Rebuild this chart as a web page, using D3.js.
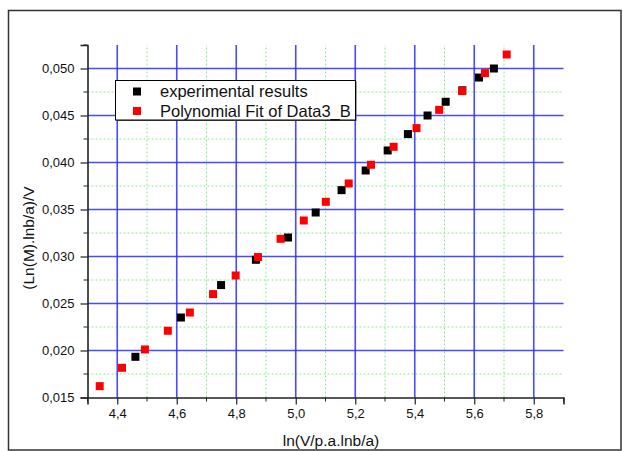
<!DOCTYPE html>
<html>
<head>
<meta charset="utf-8">
<script src="https://cdn.jsdelivr.net/npm/d3@7"></script>
<style>
  body { margin: 0; background: #fff; }
  svg { display: block; font-family: "Liberation Sans", Arial, sans-serif; }
</style>
</head>
<body>
<div id="chart"></div>
<script>
// experimental points (black)
const expX = [4.461, 4.614, 4.749, 4.866, 4.974, 5.067, 5.154, 5.235, 5.309, 5.377, 5.443, 5.504, 5.560, 5.616, 5.666];
const expY = [0.01933, 0.02351, 0.02696, 0.02965, 0.03202, 0.03468, 0.03706, 0.03915, 0.04128, 0.04302, 0.0450, 0.04646, 0.04768, 0.04904, 0.0500];
// polynomial fit points (red)
const fitX = [4.341, 4.416, 4.493, 4.570, 4.644, 4.722, 4.798, 4.873, 4.949, 5.027, 5.101, 5.178, 5.253, 5.329, 5.406, 5.482, 5.559, 5.636, 5.709];
const fitY = [0.01621, 0.01816, 0.02011, 0.0221, 0.02404, 0.0260, 0.02798, 0.02994, 0.03188, 0.03383, 0.03582, 0.03777, 0.03976, 0.04167, 0.04366, 0.0456, 0.0476, 0.04951, 0.05149];

const xMajor = [4.4, 4.6, 4.8, 5.0, 5.2, 5.4, 5.6, 5.8];
const xMinor = [4.3, 4.5, 4.7, 4.9, 5.1, 5.3, 5.5, 5.7, 5.9];
const yMajor = [0.015, 0.020, 0.025, 0.030, 0.035, 0.040, 0.045, 0.050];
const yMinor = [0.0175, 0.0225, 0.0275, 0.0325, 0.0375, 0.0425, 0.0475, 0.0525];

const legendLabels = ['experimental results', 'Polynomial Fit of Data3_B'];
const xTitle = 'ln(V/p.a.lnb/a)';
const yTitle = '(Ln(M).lnb/a)/V';

const W = 623, H = 451;
const svg = d3.select('#chart').append('svg').attr('width', W).attr('height', H);

// outer frame
svg.append('rect').attr('x', 8.5).attr('y', 10.5).attr('width', 612.5).attr('height', 439.5)
  .attr('fill', 'none').attr('stroke', '#333').attr('stroke-width', 1.5);

const x = d3.scaleLinear().domain([4.3, 5.9]).range([87.5, 563.5]);
const y = d3.scaleLinear().domain([0.015, 0.0525]).range([397.5, 45]);

const fmt = d => d3.format(',.3f')(d).replace('.', ',');
const fmtX = d => d3.format('.1f')(d).replace('.', ',');

// minor grid (green dotted)
const g = svg.append('g');
g.selectAll('line.mvx').data(xMinor.slice(1, -1)).enter().append('line')
  .attr('x1', d => x(d)).attr('x2', d => x(d)).attr('y1', y.range()[0]).attr('y2', y.range()[1])
  .attr('stroke', '#8fe88f').attr('stroke-width', 1).attr('stroke-dasharray', '2,2');
g.selectAll('line.mhy').data(yMinor.slice(0, -1)).enter().append('line')
  .attr('x1', x.range()[0]).attr('x2', x.range()[1]).attr('y1', d => y(d)).attr('y2', d => y(d))
  .attr('stroke', '#8fe88f').attr('stroke-width', 1).attr('stroke-dasharray', '2,2');

// major grid (blue)
g.selectAll('line.vx').data(xMajor).enter().append('line')
  .attr('x1', d => x(d)).attr('x2', d => x(d)).attr('y1', y.range()[0]).attr('y2', y.range()[1])
  .attr('stroke', '#2a2aff').attr('stroke-opacity', 0.85).attr('stroke-width', 1.6);
g.selectAll('line.hy').data(yMajor.slice(1)).enter().append('line')
  .attr('x1', x.range()[0]).attr('x2', x.range()[1]).attr('y1', d => y(d)).attr('y2', d => y(d))
  .attr('stroke', '#2a2aff').attr('stroke-opacity', 0.85).attr('stroke-width', 1.6);

// axes
const xAxis = svg.append('g').attr('transform', `translate(0,${y.range()[0]})`)
  .call(d3.axisBottom(x).tickValues(xMajor).tickFormat(fmtX).tickSizeOuter(0).tickSize(7).tickPadding(4));
xAxis.append('g').selectAll('line').data(xMinor).enter().append('line')
  .attr('x1', d => x(d)).attr('x2', d => x(d)).attr('y1', 0).attr('y2', 4).attr('stroke', '#222');
const yAxis = svg.append('g').attr('transform', `translate(${x.range()[0]},0)`)
  .call(d3.axisLeft(y).tickValues(yMajor).tickFormat(fmt).tickSizeOuter(0).tickSize(7).tickPadding(6));
yAxis.append('g').selectAll('line').data(yMinor).enter().append('line')
  .attr('x1', 0).attr('x2', -4).attr('y1', d => y(d)).attr('y2', d => y(d)).attr('stroke', '#222');

[xAxis, yAxis].forEach(a => {
  a.select('.domain').attr('stroke', '#222').attr('stroke-width', 1.6);
  a.selectAll('.tick line').attr('stroke', '#222').attr('stroke-width', 1.2);
  a.selectAll('text').attr('font-size', 13).attr('fill', '#111')
    .attr('font-family', '"Liberation Sans", Arial, sans-serif');
});

// titles
svg.append('text').attr('x', 331).attr('y', 446).attr('text-anchor', 'middle')
  .attr('font-size', 15.5).attr('fill', '#111').text(xTitle);
svg.append('text').attr('transform', 'translate(28,238) rotate(-90)').attr('text-anchor', 'middle')
  .attr('dominant-baseline', 'central').attr('font-size', 15.5).attr('fill', '#111').text(yTitle);

// markers
const s = 8;
const expData = expX.map((v, i) => ({ x: v, y: expY[i] }));
const fitData = fitX.map((v, i) => ({ x: v, y: fitY[i] }));
svg.append('g').selectAll('rect').data(expData).enter().append('rect')
  .attr('x', d => x(d.x) - s / 2).attr('y', d => y(d.y) - s / 2).attr('width', s).attr('height', s)
  .attr('fill', '#000');
svg.append('g').selectAll('rect').data(fitData).enter().append('rect')
  .attr('x', d => x(d.x) - s / 2).attr('y', d => y(d.y) - s / 2).attr('width', s).attr('height', s)
  .attr('fill', '#ff0000');

// legend
const lg = svg.append('g');
lg.append('rect').attr('x', 116.5).attr('y', 81.5).attr('width', 240).attr('height', 39.5)
  .attr('fill', '#555');
lg.append('rect').attr('x', 115.5).attr('y', 80.5).attr('width', 240).attr('height', 39.5)
  .attr('fill', '#fff').attr('stroke', '#000').attr('stroke-width', 1);
const colors = ['#000', '#ff0000'];
legendLabels.forEach((t, i) => {
  const cy = 91.5 + i * 19.5;
  lg.append('rect').attr('x', 137 - s / 2).attr('y', cy - s / 2).attr('width', s).attr('height', s).attr('fill', colors[i]);
  lg.append('text').attr('x', 160).attr('y', cy + 5.5).attr('font-size', 16.5).attr('fill', '#111').text(t);
});
</script>
</body>
</html>
